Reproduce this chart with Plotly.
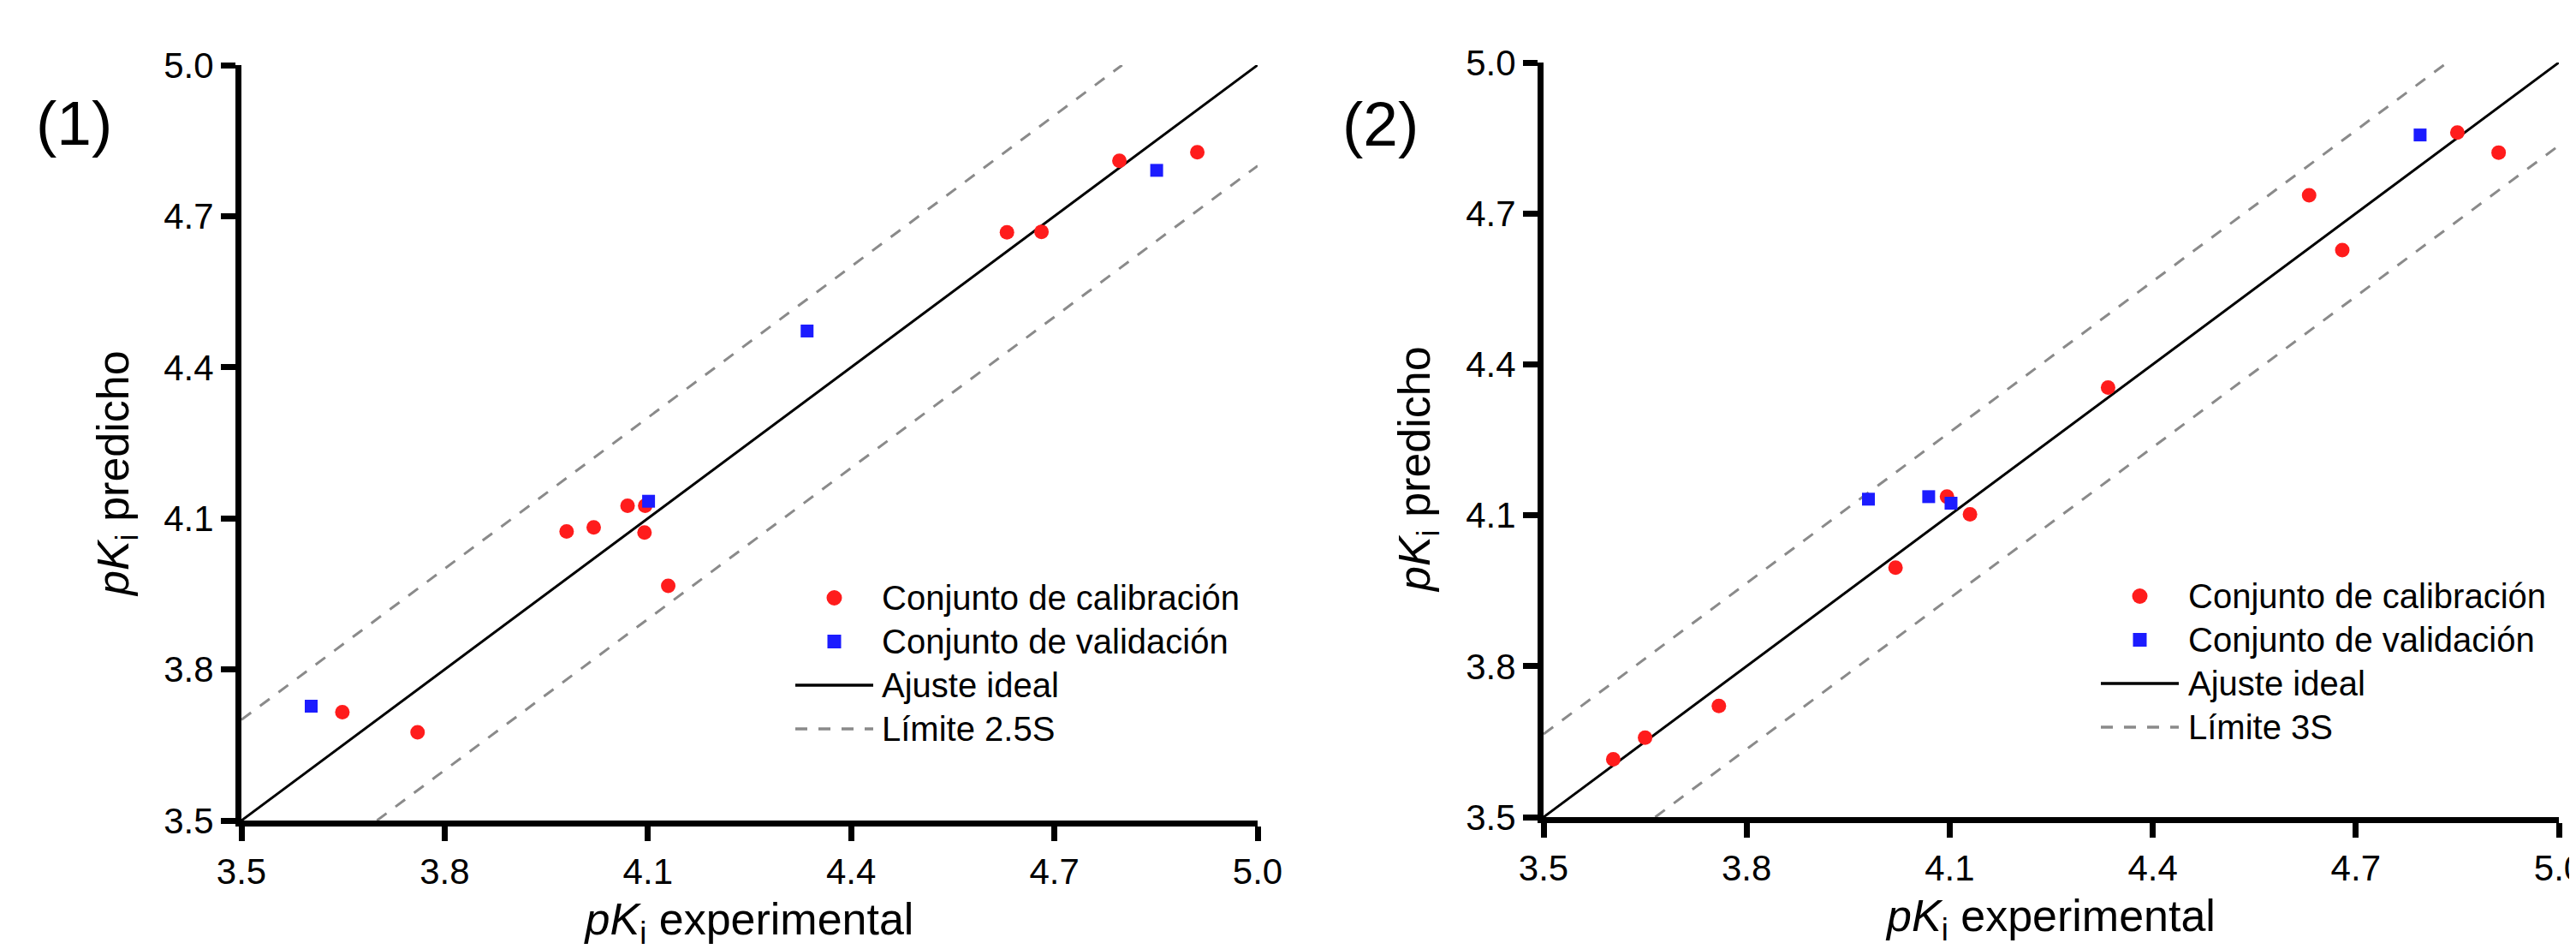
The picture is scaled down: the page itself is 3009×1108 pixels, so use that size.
import plotly.graph_objects as go

W, H = 3009, 1108

tick_vals = [3.5, 3.8, 4.1, 4.4, 4.7, 5.0]
tick_text = ["3.5", "3.8", "4.1", "4.4", "4.7", "5.0"]
axis_range = [3.5, 5.0]

# Panel (1)
cal1_x = [3.649, 3.760, 3.980, 4.020, 4.070, 4.096, 4.095, 4.130, 4.630, 4.681, 4.796, 4.911]
cal1_y = [3.715, 3.675, 4.074, 4.082, 4.125, 4.125, 4.072, 3.966, 4.668, 4.669, 4.810, 4.827]
val1_x = [3.603, 4.101, 4.335, 4.851]
val1_y = [3.727, 4.134, 4.472, 4.791]
limit1 = 0.20          # 2.5S
limit1_name = "Límite 2.5S"

# Panel (2)
cal2_x = [3.603, 3.650, 3.759, 4.020, 4.096, 4.130, 4.334, 4.631, 4.680, 4.850, 4.911]
cal2_y = [3.615, 3.658, 3.721, 3.996, 4.137, 4.102, 4.354, 4.736, 4.627, 4.861, 4.821]
val2_x = [3.980, 4.069, 4.102, 4.795]
val2_y = [4.132, 4.137, 4.124, 4.856]
limit2 = 0.165         # 3S
limit2_name = "Límite 3S"

legend_names = ["Conjunto de calibración", "Conjunto de validación", "Ajuste ideal"]

RED = "#ff1c1c"
BLUE = "#1c1cff"
GRAY = "#8a8a8a"
FONT = "Liberation Sans, Arial, sans-serif"
DASH = "14px,13px"

fig = go.Figure()


def add_panel(cal_x, cal_y, val_x, val_y, lim, lim_name, xa, ya):
    lo, hi = axis_range
    fig.add_trace(go.Scatter(x=[lo, hi - lim], y=[lo + lim, hi], mode="lines",
                             line=dict(color=GRAY, width=3, dash=DASH),
                             name=lim_name, showlegend=False, xaxis=xa, yaxis=ya))
    fig.add_trace(go.Scatter(x=[lo + lim, hi], y=[lo, hi - lim], mode="lines",
                             line=dict(color=GRAY, width=3, dash=DASH),
                             name=lim_name, showlegend=False, xaxis=xa, yaxis=ya))
    fig.add_trace(go.Scatter(x=[lo, hi], y=[lo, hi], mode="lines",
                             line=dict(color="black", width=3),
                             name=legend_names[2], showlegend=False, xaxis=xa, yaxis=ya))
    fig.add_trace(go.Scatter(x=cal_x, y=cal_y, mode="markers",
                             marker=dict(symbol="circle", size=17, color=RED),
                             name=legend_names[0], showlegend=False, xaxis=xa, yaxis=ya))
    fig.add_trace(go.Scatter(x=val_x, y=val_y, mode="markers",
                             marker=dict(symbol="square", size=15, color=BLUE),
                             name=legend_names[1], showlegend=False, xaxis=xa, yaxis=ya))


add_panel(cal1_x, cal1_y, val1_x, val1_y, limit1, limit1_name, "x", "y")
add_panel(cal2_x, cal2_y, val2_x, val2_y, limit2, limit2_name, "x2", "y2")

axis_common = dict(range=axis_range, tickvals=tick_vals, ticktext=tick_text,
                   showline=True, linewidth=7, linecolor="black",
                   ticks="outside", ticklen=17, tickwidth=7, tickcolor="black",
                   showgrid=False, zeroline=False, automargin=False,
                   ticklabeloverflow="allow",
                   tickfont=dict(family=FONT, size=42, color="black"))

xtitle = dict(text="<i>pK</i><sub>i</sub> experimental",
              font=dict(family=FONT, size=52, color="black"), standoff=17)

shapes = []
annotations = []


def add_legend(names, line_x0, line_x1, text_x, rows):
    """Legend drawn in pixel positions of the page (paper coordinates)."""
    mx = (line_x0 + line_x1) / 2
    shapes.append(dict(type="circle", xref="paper", yref="paper",
                       xsizemode="pixel", ysizemode="pixel",
                       xanchor=mx / W, yanchor=1 - rows[0] / H,
                       x0=-9, x1=9, y0=-9, y1=9,
                       fillcolor=RED, line=dict(width=0)))
    shapes.append(dict(type="rect", xref="paper", yref="paper",
                       xsizemode="pixel", ysizemode="pixel",
                       xanchor=mx / W, yanchor=1 - rows[1] / H,
                       x0=-8, x1=8, y0=-8, y1=8,
                       fillcolor=BLUE, line=dict(width=0)))
    shapes.append(dict(type="line", xref="paper", yref="paper",
                       x0=line_x0 / W, x1=line_x1 / W,
                       y0=1 - rows[2] / H, y1=1 - rows[2] / H,
                       line=dict(color="black", width=3.5)))
    shapes.append(dict(type="line", xref="paper", yref="paper",
                       x0=line_x0 / W, x1=line_x1 / W,
                       y0=1 - rows[3] / H, y1=1 - rows[3] / H,
                       line=dict(color=GRAY, width=3.5, dash=DASH)))
    for name, ry in zip(names, rows):
        annotations.append(dict(text=name, x=text_x / W, y=1 - ry / H,
                                xref="paper", yref="paper", xanchor="left",
                                yanchor="middle", showarrow=False,
                                font=dict(family=FONT, size=40, color="black")))


add_legend(legend_names + [limit1_name], 921, 1012, 1020, [690, 741, 792, 843])
add_legend(legend_names + [limit2_name], 2446, 2537, 2546, [688, 739, 790, 841])

for txt, x, y in [("<i>pK</i><sub>i</sub> predicho", 128, 545),
                  ("<i>pK</i><sub>i</sub> predicho", 1648, 540)]:
    annotations.append(dict(text=txt, textangle=-90, x=x / W, y=1 - y / H,
                            xref="paper", yref="paper", xanchor="center",
                            yanchor="middle", showarrow=False,
                            font=dict(family=FONT, size=52, color="black")))

for txt, x, y in [("(1)", 78, 136), ("(2)", 1604, 137)]:
    annotations.append(dict(text=txt, x=x / W, y=1 - y / H, xref="paper", yref="paper",
                            xanchor="center", yanchor="middle", showarrow=False,
                            font=dict(family=FONT, size=73, color="black")))

fig.update_layout(
    width=W, height=H,
    margin=dict(l=0, r=0, t=0, b=0),
    paper_bgcolor="white", plot_bgcolor="white",
    font=dict(family=FONT, color="black", size=40),
    showlegend=False,
    xaxis=dict(domain=[274 / W, 1461 / W], anchor="y", title=xtitle, **axis_common),
    yaxis=dict(domain=[1 - 950 / H, 1 - 68 / H], anchor="x", **axis_common),
    xaxis2=dict(domain=[1795 / W, 2981 / W], anchor="y2", title=xtitle, **axis_common),
    yaxis2=dict(domain=[1 - 946 / H, 1 - 65 / H], anchor="x2", **axis_common),
    shapes=shapes,
    annotations=annotations,
)

fig.write_html("out.html")
